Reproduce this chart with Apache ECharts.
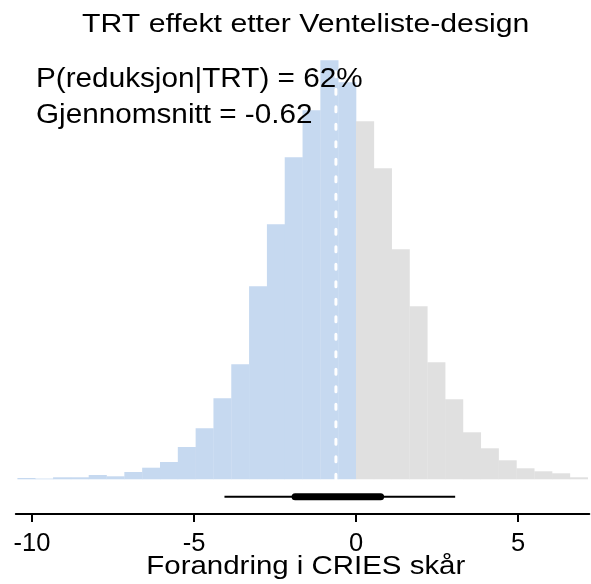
<!DOCTYPE html>
<html>
<head>
<meta charset="utf-8">
<script src="https://cdn.jsdelivr.net/npm/echarts@6/dist/echarts.min.js"></script>
<style>
  html, body { margin: 0; padding: 0; background: #fff; }
  #main { width: 591px; height: 584px; }
</style>
</head>
<body>
<div id="main"></div>
<script>
// histogram bins (left edge, width 0.55)
var binLeft = [-10.45, -9.9, -9.35, -8.8, -8.25, -7.7, -7.15, -6.6, -6.05, -5.5,
  -4.95, -4.4, -3.85, -3.3, -2.75, -2.2, -1.65, -1.1, -0.55,
  0, 0.55, 1.1, 1.65, 2.2, 2.75, 3.3, 3.85, 4.4, 4.95, 5.5, 6.05, 6.6];
var binWidth = 0.55;
var counts = [13, 7, 20, 20, 43, 30, 73, 116, 173, 323, 510, 810, 1150, 1930, 2550, 3220, 3690, 4190, 3970,
  3580, 3110, 2300, 1730, 1170, 800, 470, 310, 190, 110, 80, 60, 20];
var meanVal = -0.62;
var ci95 = [-4.06, 3.06];
var ci50 = [-1.88, 0.76];
var tickVals = [-10, -5, 0, 5];

var blue = '#c6d9f0';
var grey = '#e0e0e0';
var font = 'Liberation Sans, Arial, sans-serif';

var myChart = echarts.init(document.getElementById('main'));

var bins = binLeft.map(function (x0, i) {
  return [x0, x0 + binWidth, counts[i]];
});

// R output looks a bit wider than Arial, so stretch text slightly
function label(txt, x, y, size, sx, lh) {
  return {
    type: 'text', x: x, y: y, scaleX: sx, z: 100,
    style: {
      text: txt, fill: '#000', fontSize: size, fontFamily: font,
      lineHeight: lh || size, align: x > 100 ? 'center' : 'left', verticalAlign: 'top'
    }
  };
}

var option = {
  animation: false,
  backgroundColor: '#fff',
  grid: [
    { left: 15.8, right: 1.7, top: 59.3, bottom: 104.7 },
    { left: 15.8, right: 1.7, top: 479.3, bottom: 70 }
  ],
  xAxis: [
    { gridIndex: 0, type: 'value', min: -10.5, max: 7.2, show: false },
    {
      gridIndex: 1, type: 'value', min: -10.5, max: 7.2,
      axisLine: { show: true, onZero: false, lineStyle: { color: '#000', width: 2 } },
      axisTick: { show: true, length: 8, lineStyle: { color: '#000', width: 2 }, customValues: tickVals },
      axisLabel: { customValues: tickVals, margin: 17, color: '#000', fontSize: 25.5, fontFamily: font },
      splitLine: { show: false }
    }
  ],
  yAxis: [
    { gridIndex: 0, type: 'value', min: 0, max: 4200, show: false },
    { gridIndex: 1, type: 'value', min: 0, max: 1, show: false }
  ],
  graphic: [
    label('TRT effekt etter Venteliste-design', 305.7, 11.9, 26.5, 1.14),
    label('P(reduksjon|TRT) = 62%\nGjennomsnitt = -0.62', 36, 62.1, 27, 1.1, 35.7),
    label('Forandring i CRIES skår', 305.8, 553.8, 25.6, 1.15)
  ],
  series: [
    {
      type: 'custom',
      xAxisIndex: 0, yAxisIndex: 0,
      data: bins,
      renderItem: function (params, api) {
        var p0 = api.coord([api.value(0), api.value(2)]);
        var p1 = api.coord([api.value(1), 0]);
        return {
          type: 'rect',
          shape: { x: p0[0], y: p0[1], width: p1[0] - p0[0] + 0.3, height: p1[1] - p0[1] },
          style: { fill: api.value(1) <= 0.0001 ? blue : grey }
        };
      }
    },
    {
      type: 'line',
      xAxisIndex: 0, yAxisIndex: 0,
      data: [[meanVal, 0], [meanVal, 4200]],
      symbol: 'none',
      lineStyle: { color: '#fff', width: 3, type: [5, 12.5], cap: 'round' },
      z: 5
    },
    {
      type: 'line',
      xAxisIndex: 1, yAxisIndex: 1,
      data: [[ci95[0], 0.5], [ci95[1], 0.5]],
      symbol: 'none',
      lineStyle: { color: '#000', width: 2 }
    },
    {
      type: 'line',
      xAxisIndex: 1, yAxisIndex: 1,
      data: [[ci50[0], 0.5], [ci50[1], 0.5]],
      symbol: 'none',
      lineStyle: { color: '#000', width: 7, cap: 'round' }
    }
  ]
};

myChart.setOption(option);
</script>
</body>
</html>
